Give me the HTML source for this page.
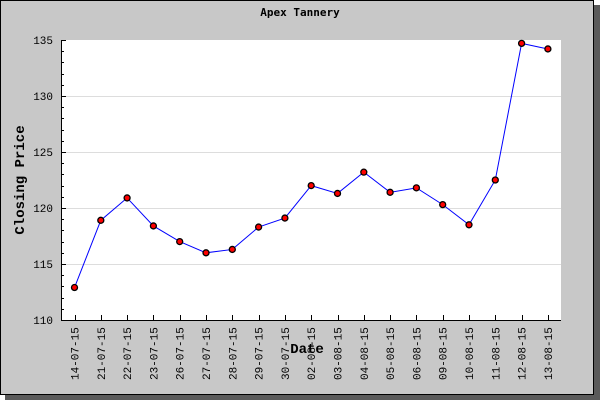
<!DOCTYPE html>
<html><head><style>body{margin:0;background:#fff}</style></head><body>
<svg width="600" height="400" xmlns="http://www.w3.org/2000/svg" font-family="Liberation Mono, DejaVu Sans Mono, monospace">
<rect x="5" y="5" width="595" height="395" fill="#5a5a5a"/>
<rect x="0.5" y="0.5" width="593" height="394" fill="#c8c8c8" stroke="#000"/>
<text x="300" y="16" text-anchor="middle" font-size="11" font-weight="bold" font-family="DejaVu Sans Mono, monospace">Apex Tannery</text>
<rect x="61" y="40" width="500" height="280" fill="#fff"/>
<g stroke="#ddd"><line x1="61" x2="561" y1="96.5" y2="96.5"/><line x1="61" x2="561" y1="152.5" y2="152.5"/><line x1="61" x2="561" y1="208.5" y2="208.5"/><line x1="61" x2="561" y1="264.5" y2="264.5"/></g>
<g stroke="#000" id="yt"></g>
<g stroke="#000" id="xt"></g>
<line x1="61.5" y1="40" x2="61.5" y2="320" stroke="#000"/>
<line x1="61" y1="320.5" x2="561" y2="320.5" stroke="#000"/>
<g font-size="11" text-anchor="end"><text x="53" y="44">135</text><text x="53" y="100">130</text><text x="53" y="156">125</text><text x="53" y="212">120</text><text x="53" y="268">115</text><text x="53" y="324">110</text></g>
<text transform="translate(24,180) rotate(-90)" text-anchor="middle" font-size="14" font-weight="bold">Closing Price</text>
<g id="xl" font-size="11"></g>
<text x="307" y="353" text-anchor="middle" font-size="14" font-weight="bold">Date</text>
<polyline id="ln" fill="none" stroke="#0000ff" stroke-width="1"/>
<g id="mk" fill="#f00" stroke="#000" stroke-width="1.3"></g>
</svg>
<script>
var v=[112.9,118.9,120.9,118.4,117.0,116.0,116.3,118.3,119.1,122.0,121.3,123.2,121.4,121.8,120.3,118.5,122.5,134.7,134.2];
var l=["14-07-15","21-07-15","22-07-15","23-07-15","26-07-15","27-07-15","28-07-15","29-07-15","30-07-15","02-08-15","03-08-15","04-08-15","05-08-15","06-08-15","09-08-15","10-08-15","11-08-15","12-08-15","13-08-15"];
var ns="http://www.w3.org/2000/svg";function e(t,a,p){var n=document.createElementNS(ns,t);for(var k in a)n.setAttribute(k,a[k]);p.appendChild(n);return n}
var yt=document.getElementById('yt');for(var i=0;i<=25;i++){var y=320-i*11.2;e('line',{x1:61,x2:i%5?64:66,y1:Math.round(y)+.5,y2:Math.round(y)+.5},yt)}
var pts=[],xt=document.getElementById('xt'),xl=document.getElementById('xl'),mk=document.getElementById('mk');
for(var i=0;i<v.length;i++){var x=74.5+i*26.3,y=320-(v[i]-110)*11.2;pts.push(x+','+y);
e('line',{x1:Math.round(x)+.5,x2:Math.round(x)+.5,y1:315,y2:320},xt);
var t=e('text',{transform:'translate('+(x+4)+',380) rotate(-90)'},xl);t.textContent=l[i];
e('circle',{cx:x,cy:y,r:3},mk)}
document.getElementById('ln').setAttribute('points',pts.join(' '));
</script>
</body></html>
